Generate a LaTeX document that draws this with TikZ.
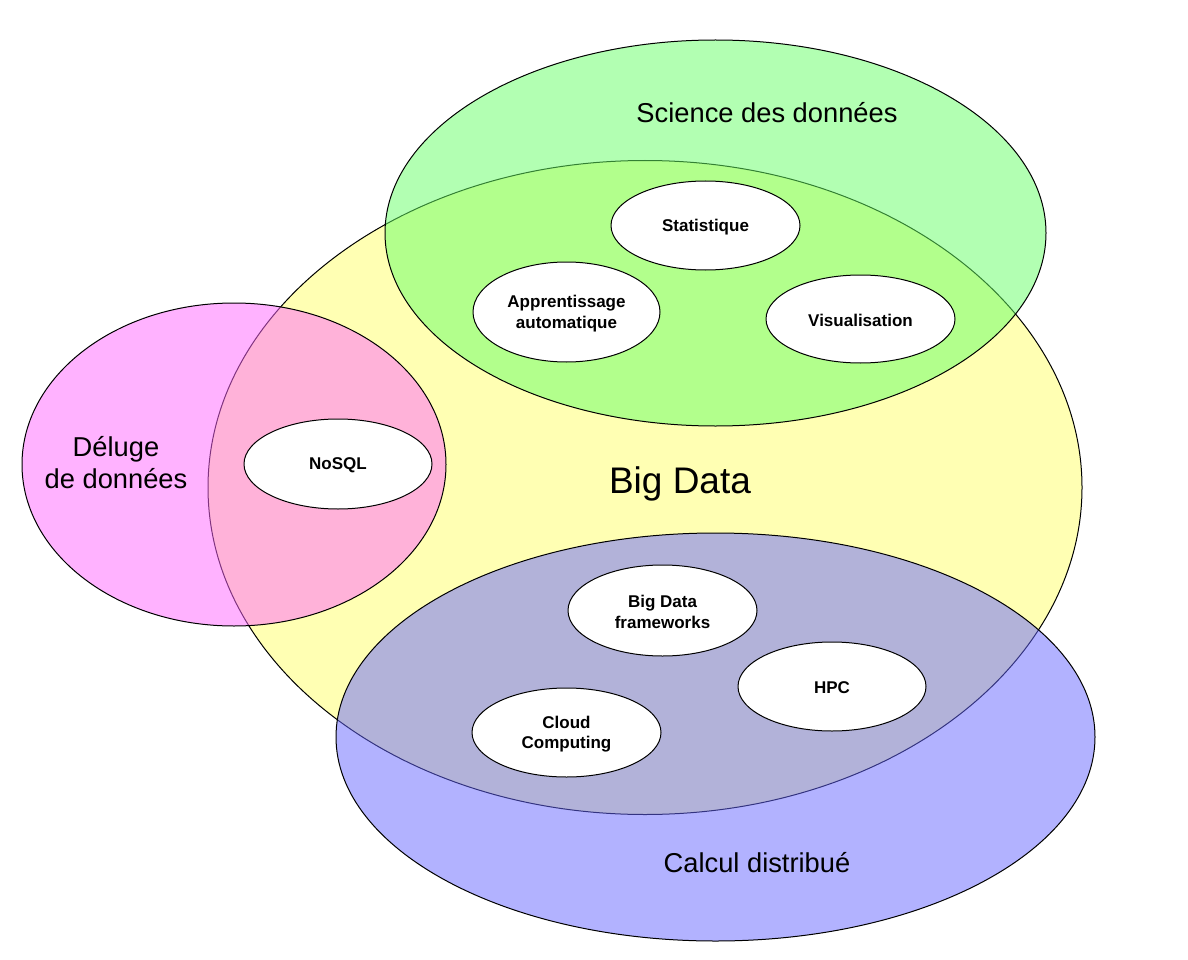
\documentclass[tikz,border=0pt]{standalone}
\usepackage{fontspec}
\setmainfont{Liberation Sans}
\usetikzlibrary{shapes.geometric}
\definecolor{ybase}{RGB}{255,255,179}
\definecolor{gbase}{RGB}{102,255,102}
\definecolor{pbase}{RGB}{255,102,255}
\definecolor{bbase}{RGB}{102,102,255}
\tikzset{
  setarea/.style={draw=black, line width=1pt, fill opacity=0.5},
  topic/.style={ellipse, draw=black, line width=1pt, fill=white, inner sep=0pt,
    minimum width=189pt, minimum height=89pt},
  topictext/.style={align=center, inner sep=0pt,
    font=\fontsize{17}{20.5}\selectfont\bfseries},
  biglabel/.style={align=center, inner sep=0pt, font=\fontsize{27.3}{32}\selectfont},
}
\begin{document}
\begin{tikzpicture}[x=1pt,y=-1pt]
\useasboundingbox (0,0) rectangle (1188,960);
% set areas
\path[draw=black, line width=1pt, fill=ybase] (645,487.5) ellipse [x radius=437, y radius=327];
\path[setarea, fill=gbase] (715.5,233) ellipse [x radius=330.5, y radius=193];
\path[setarea, fill=pbase] (234,464.5) ellipse [x radius=212, y radius=161.5];
\path[setarea, fill=bbase] (715.5,737) ellipse [x radius=379.5, y radius=204];
% set labels
\node[biglabel] (sci) at (767,112.5) {Science des données};
\node[biglabel] (delu) at (116,462.5) {Déluge\\de données};
\node[biglabel] (calc) at (757,862.5) {Calcul distribué};
\node[align=center, inner sep=0pt, font=\fontsize{37}{44}\selectfont] (bigdata) at (680,483.5) {Big Data};
% topics
\node[topic] (stat) at (705.5,225.5) {};
\node[topic, minimum width=187pt, minimum height=100pt] (appr) at (566.5,312) {};
\node[topic, minimum height=88pt] (visu) at (860.5,319) {};
\node[topic, minimum width=188pt, minimum height=90pt] (nosql) at (338,464) {};
\node[topic, minimum height=91pt] (bdf) at (662.5,610.5) {};
\node[topic, minimum width=188pt] (hpc) at (832,686.5) {};
\node[topic] (cloud) at (566.5,732.5) {};
\node[topictext] (statt) at ([yshift=-1.5pt]stat.center) {Statistique};
\node[topictext] (apprt) at ([yshift=-1.5pt]appr.center) {Apprentissage\\automatique};
\node[topictext] (visut) at ([yshift=-1.5pt]visu.center) {Visualisation};
\node[topictext] (nosqlt) at ([yshift=-1.5pt]nosql.center) {NoSQL};
\node[topictext] (bdft) at ([yshift=-1.5pt]bdf.center) {Big Data\\frameworks};
\node[topictext] (hpct) at ([yshift=-1.5pt]hpc.center) {HPC};
\node[topictext] (cloudt) at ([yshift=-1.5pt]cloud.center) {Cloud\\Computing};
\end{tikzpicture}
\end{document}
